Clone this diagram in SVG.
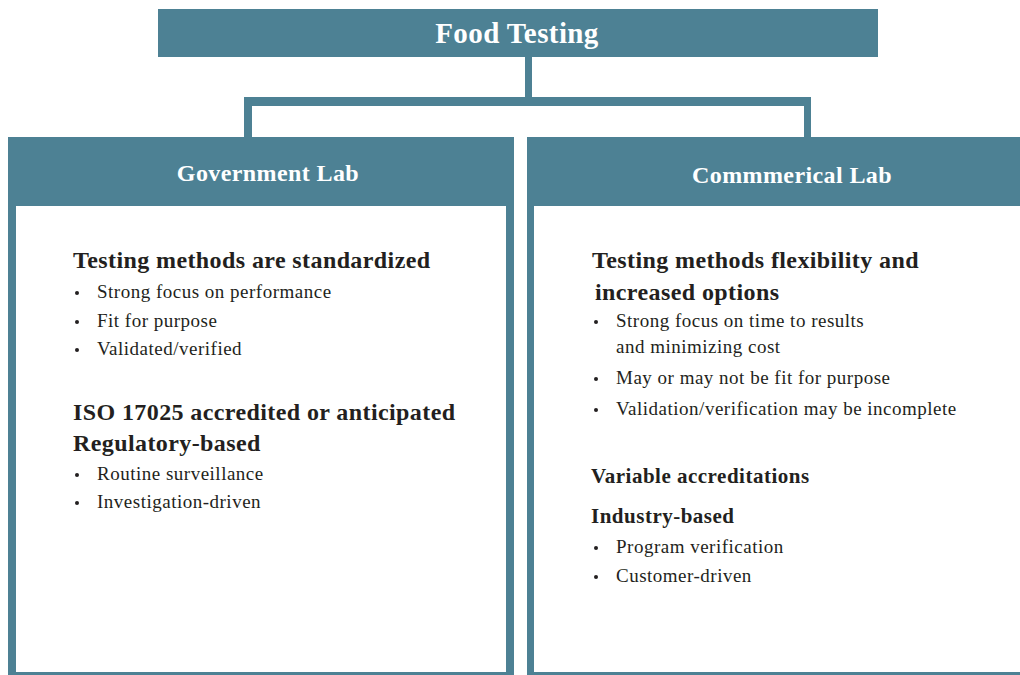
<svg xmlns="http://www.w3.org/2000/svg" width="1020" height="675" viewBox="0 0 1020 675">
<style>
.teal{fill:#4d8194}
.hdr{font-family:"Liberation Serif","DejaVu Serif",serif;font-weight:bold;fill:#ffffff;text-anchor:middle;letter-spacing:0.4px}
.h{font-family:"Liberation Serif","DejaVu Serif",serif;font-weight:bold;fill:#231f20;font-size:24px;letter-spacing:0.4px}
.h2{font-family:"Liberation Serif","DejaVu Serif",serif;font-weight:bold;fill:#231f20;font-size:21px;letter-spacing:0.5px}
.b{font-family:"Liberation Serif","DejaVu Serif",serif;fill:#231f20;font-size:19px;letter-spacing:0.5px}
.dot{fill:#231f20}
</style>
<rect width="1020" height="675" fill="#ffffff"/>
<g id="connectors" class="teal">
<rect x="525" y="57" width="7" height="45"/>
<rect x="244" y="97" width="567" height="9"/>
<rect x="244" y="97" width="8" height="41"/>
<rect x="804" y="97" width="7" height="41"/>
</g>
<g id="food-testing">
<rect class="teal" x="158" y="9" width="720" height="48"/>
<text class="hdr" x="517" y="43" font-size="29">Food Testing</text>
</g>
<g id="government-lab">
<rect class="teal" x="8" y="137" width="506" height="538"/>
<rect x="16" y="206" width="490" height="466" fill="#ffffff"/>
<text class="hdr" x="268" y="181" font-size="24">Government Lab</text>
<text class="h" x="73" y="268">Testing methods are standardized</text>
<circle class="dot" cx="77" cy="293" r="2"/>
<text class="b" x="97" y="298">Strong focus on performance</text>
<circle class="dot" cx="77" cy="322" r="2"/>
<text class="b" x="97" y="327">Fit for purpose</text>
<circle class="dot" cx="77" cy="350" r="2"/>
<text class="b" x="97" y="355">Validated/verified</text>
<text class="h" x="73" y="420">ISO 17025 accredited or anticipated</text>
<text class="h" x="73" y="451">Regulatory-based</text>
<circle class="dot" cx="77" cy="475" r="2"/>
<text class="b" x="97" y="480">Routine surveillance</text>
<circle class="dot" cx="77" cy="503" r="2"/>
<text class="b" x="97" y="508">Investigation-driven</text>
</g>
<g id="commercial-lab">
<rect class="teal" x="527" y="137" width="493" height="538"/>
<rect x="534" y="206" width="486" height="466" fill="#ffffff"/>
<text class="hdr" x="792" y="183" font-size="24">Commmerical Lab</text>
<text class="h" x="592" y="268">Testing methods flexibility and</text>
<text class="h" x="595" y="300">increased options</text>
<circle class="dot" cx="596" cy="322" r="2"/>
<text class="b" x="616" y="327">Strong focus on time to results</text>
<text class="b" x="616" y="353">and minimizing cost</text>
<circle class="dot" cx="596" cy="379" r="2"/>
<text class="b" x="616" y="384">May or may not be fit for purpose</text>
<circle class="dot" cx="596" cy="410" r="2"/>
<text class="b" x="616" y="415">Validation/verification may be incomplete</text>
<text class="h2" x="591" y="483">Variable accreditations</text>
<text class="h2" x="591" y="523">Industry-based</text>
<circle class="dot" cx="596" cy="548" r="2"/>
<text class="b" x="616" y="553">Program verification</text>
<circle class="dot" cx="596" cy="577" r="2"/>
<text class="b" x="616" y="582">Customer-driven</text>
</g>
</svg>
